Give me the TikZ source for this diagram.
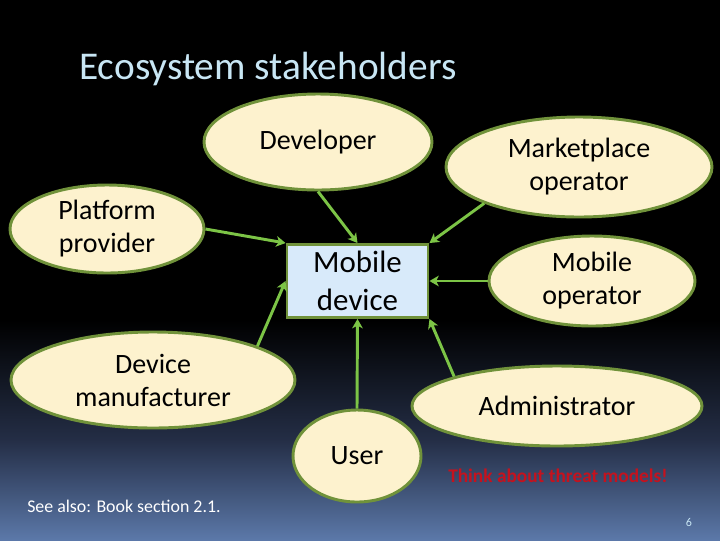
\documentclass[tikz,border=0pt]{standalone}
\usepackage{fontspec}
\setmainfont{Carlito}
\usetikzlibrary{shapes.geometric,arrows.meta}
\definecolor{bgbot}{RGB}{92,121,170}
\definecolor{bgmid}{RGB}{36,46,70}
\definecolor{titleblue}{RGB}{200,230,244}
\definecolor{cream}{RGB}{253,242,206}
\definecolor{edgegreen}{RGB}{112,146,58}
\definecolor{arrowgreen}{RGB}{124,196,70}
\definecolor{boxblue}{RGB}{216,234,250}
\definecolor{threatred}{RGB}{196,18,30}
\tikzset{
  stake/.style={ellipse, draw=edgegreen, fill=cream, line width=2.2pt, inner sep=0pt,
    align=center, text=black, font=\fontsize{21}{24.75}\selectfont},
  devbox/.style={rectangle, draw=edgegreen, fill=boxblue, line width=2.2pt, inner sep=0pt,
    align=center, text=black, minimum width=141*0.75pt, minimum height=73*0.75pt,
    font=\fontsize{23.2}{28.5}\selectfont},
  link/.style={draw=arrowgreen, line width=2.2pt, -{Stealth[length=7pt,width=8pt,inset=2pt]}}
}
\begin{document}
\begin{tikzpicture}[x=0.75pt,y=-0.75pt]
\useasboundingbox (0,0) rectangle (720,540);
\fill[black] (0,0) rectangle (720,541);
\shade[top color=black, bottom color=bgmid] (0,320) rectangle (720,440.5);
\shade[top color=bgmid, bottom color=bgbot] (0,440) rectangle (720,541);
\node[anchor=west, text=titleblue, font=\fontsize{29.5}{34}\selectfont, inner sep=0pt] (title) at (79,69) {Ecosystem stakeholders};
% stakeholders
\node[stake, minimum width=228*0.75pt, minimum height=96*0.75pt] (dev) at (318,142) {Developer};
\node[stake, minimum width=194*0.75pt, minimum height=88*0.75pt] (pp) at (107,229) {Platform\\provider};
\node[stake, minimum width=284*0.75pt, minimum height=96*0.75pt] (dm) at (153,380) {Device\\manufacturer};
\node[stake, minimum width=266*0.75pt, minimum height=100*0.75pt] (mp) at (579,167) {Marketplace\\operator};
\node[stake, minimum width=206*0.75pt, minimum height=90*0.75pt] (mo) at (592,281) {Mobile\\operator};
\node[stake, minimum width=290*0.75pt, minimum height=80*0.75pt] (ad) at (557,406) {Administrator};
\node[stake, minimum width=128*0.75pt, minimum height=92*0.75pt] (us) at (357,456) {User};
\node[devbox] (md) at (357.5,281) {Mobile\\device};
% connectors
\draw[link] (dev.270) -- (md.north);
\draw[link] (pp.east) -- (md.north west);
\draw[link] (dm.18) -- (md.west);
\draw[link] (us.north) -- (md.south);
\draw[link] (mp.201) -- (md.north east);
\draw[link] (mo.west) -- (md.east);
\draw[link] (ad.164) -- (md.south east);
% notes
\node[anchor=west, text=threatred, font=\bfseries\fontsize{14.5}{17}\selectfont, inner sep=0pt] (threat) at (448,476) {Think about threat models!};
\node[anchor=west, text=white, font=\fontsize{13.4}{16}\selectfont, inner sep=0pt] (see) at (27,506) {See also: Book section 2.1.};
\node[text=titleblue, font=\fontsize{9}{11}\selectfont, inner sep=0pt] (page) at (689,522) {6};
\end{tikzpicture}
\end{document}
